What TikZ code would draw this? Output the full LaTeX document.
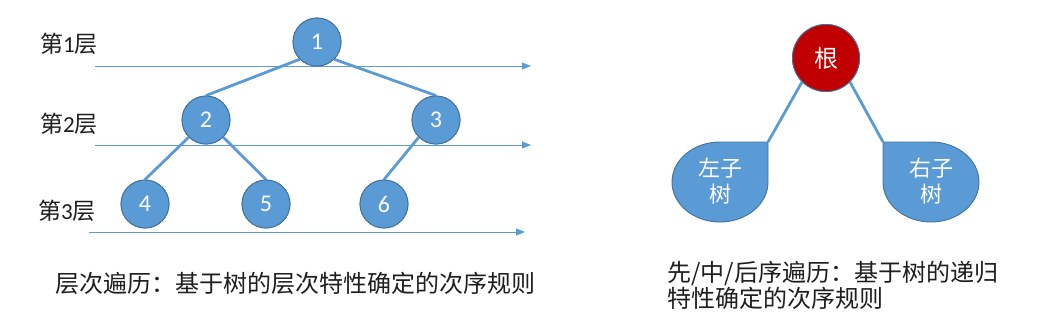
\documentclass[tikz,border=0pt]{standalone}
\usepackage{fontspec}
\setmainfont{Carlito}
\newfontfamily\cjk{Noto Sans CJK SC}
\usetikzlibrary{arrows.meta}
\definecolor{nodeblue}{HTML}{5B9BD5}
\definecolor{nodeedge}{HTML}{41719C}
\definecolor{rootred}{HTML}{C00000}
\definecolor{txt}{HTML}{1E1E1E}
\tikzset{
  tnode/.style={circle, fill=nodeblue, draw=nodeedge, line width=0.9pt, minimum size=48pt, inner sep=0pt, text=white, font=\fontsize{24}{26}\selectfont},
  rootnode/.style={circle, fill=rootred, draw=nodeedge, line width=0.9pt, minimum size=67pt, inner sep=0pt, text=white, font=\fontsize{24}{26}\selectfont\cjk},
  edge/.style={draw=nodeblue, line width=2.8pt},
  levelline/.style={draw=nodeblue, line width=0.8pt, -{Triangle[length=9pt,width=7pt]}},
  levellabel/.style={anchor=west, inner sep=0pt, text=txt, font=\fontsize{23}{25}\selectfont},
  caption/.style={anchor=west, inner sep=0pt, text=txt, align=left, font=\fontsize{24}{26}\selectfont\cjk},
  subtree/.style={fill=nodeblue, draw=nodeedge, line width=0.9pt},
  subtext/.style={inner sep=0pt, text=white, align=center, font=\fontsize{22}{26}\selectfont\cjk}
}
\begin{document}
\begin{tikzpicture}[x=1pt, y=-1pt]
\useasboundingbox (0,0) rectangle (1053,325);
% level labels
\node[levellabel] (l1) at (40,44) {{\cjk 第}1{\cjk 层}};
\node[levellabel] (l2) at (40,124) {{\cjk 第}2{\cjk 层}};
\node[levellabel] (l3) at (38,211) {{\cjk 第}3{\cjk 层}};
% level lines
\coordinate (a1s) at (95,66);  \coordinate (a1e) at (531,66);
\coordinate (a2s) at (95,145); \coordinate (a2e) at (531,145);
\coordinate (a3s) at (89,232); \coordinate (a3e) at (525,232);
\draw[levelline] (a1s) -- (a1e);
\draw[levelline] (a2s) -- (a2e);
\draw[levelline] (a3s) -- (a3e);
% tree nodes
\node[tnode] (n1) at (317,42) {1};
\node[tnode] (n2) at (206,120) {2};
\node[tnode] (n3) at (436,120) {3};
\node[tnode] (n4) at (145,204) {4};
\node[tnode] (n5) at (266,204) {5};
\node[tnode] (n6) at (384,204) {6};
\draw[edge] (n1.south west) -- (n2.north);
\draw[edge] (n1.south east) -- (n3.north);
\draw[edge] (n2.south west) -- (n4.north);
\draw[edge] (n2.south east) -- (n5.north);
\draw[edge] (n3.south west) -- (n6.north);
% redraw nodes on top of edges
\node[tnode] at (n1) {1};
\node[tnode] at (n2) {2};
\node[tnode] at (n3) {3};
\node[tnode] at (n4) {4};
\node[tnode] at (n5) {5};
\node[tnode] at (n6) {6};
\node[caption] (c1) at (55,283) {层次遍历：基于树的层次特性确定的次序规则};
% right panel
\coordinate (lt) at (768,142);
\coordinate (rt) at (883,142);
\node[rootnode] (root) at (826,58) {根};
\draw[edge] (root.south west) -- (lt);
\draw[edge] (root.south east) -- (rt);
\node[rootnode] at (root) {根};
\draw[subtree] (720,142) -- (lt) -- (768,182)
  .. controls (768,204.1) and (746.5,222) .. (720,222)
  .. controls (693.5,222) and (672,204.1) .. (672,182)
  .. controls (672,159.9) and (693.5,142) .. (720,142) -- cycle;
\draw[subtree] (931,142) -- (rt) -- (883,182)
  .. controls (883,204.1) and (904.5,222) .. (931,222)
  .. controls (957.5,222) and (979,204.1) .. (979,182)
  .. controls (979,159.9) and (957.5,142) .. (931,142) -- cycle;
\node[subtext] (lst) at (720,181) {左子\\树};
\node[subtext] (rst) at (931,181) {右子\\树};
\node[caption] (c2) at (667,285) {先/中/后序遍历：基于树的递归\\特性确定的次序规则};
\end{tikzpicture}
\end{document}
